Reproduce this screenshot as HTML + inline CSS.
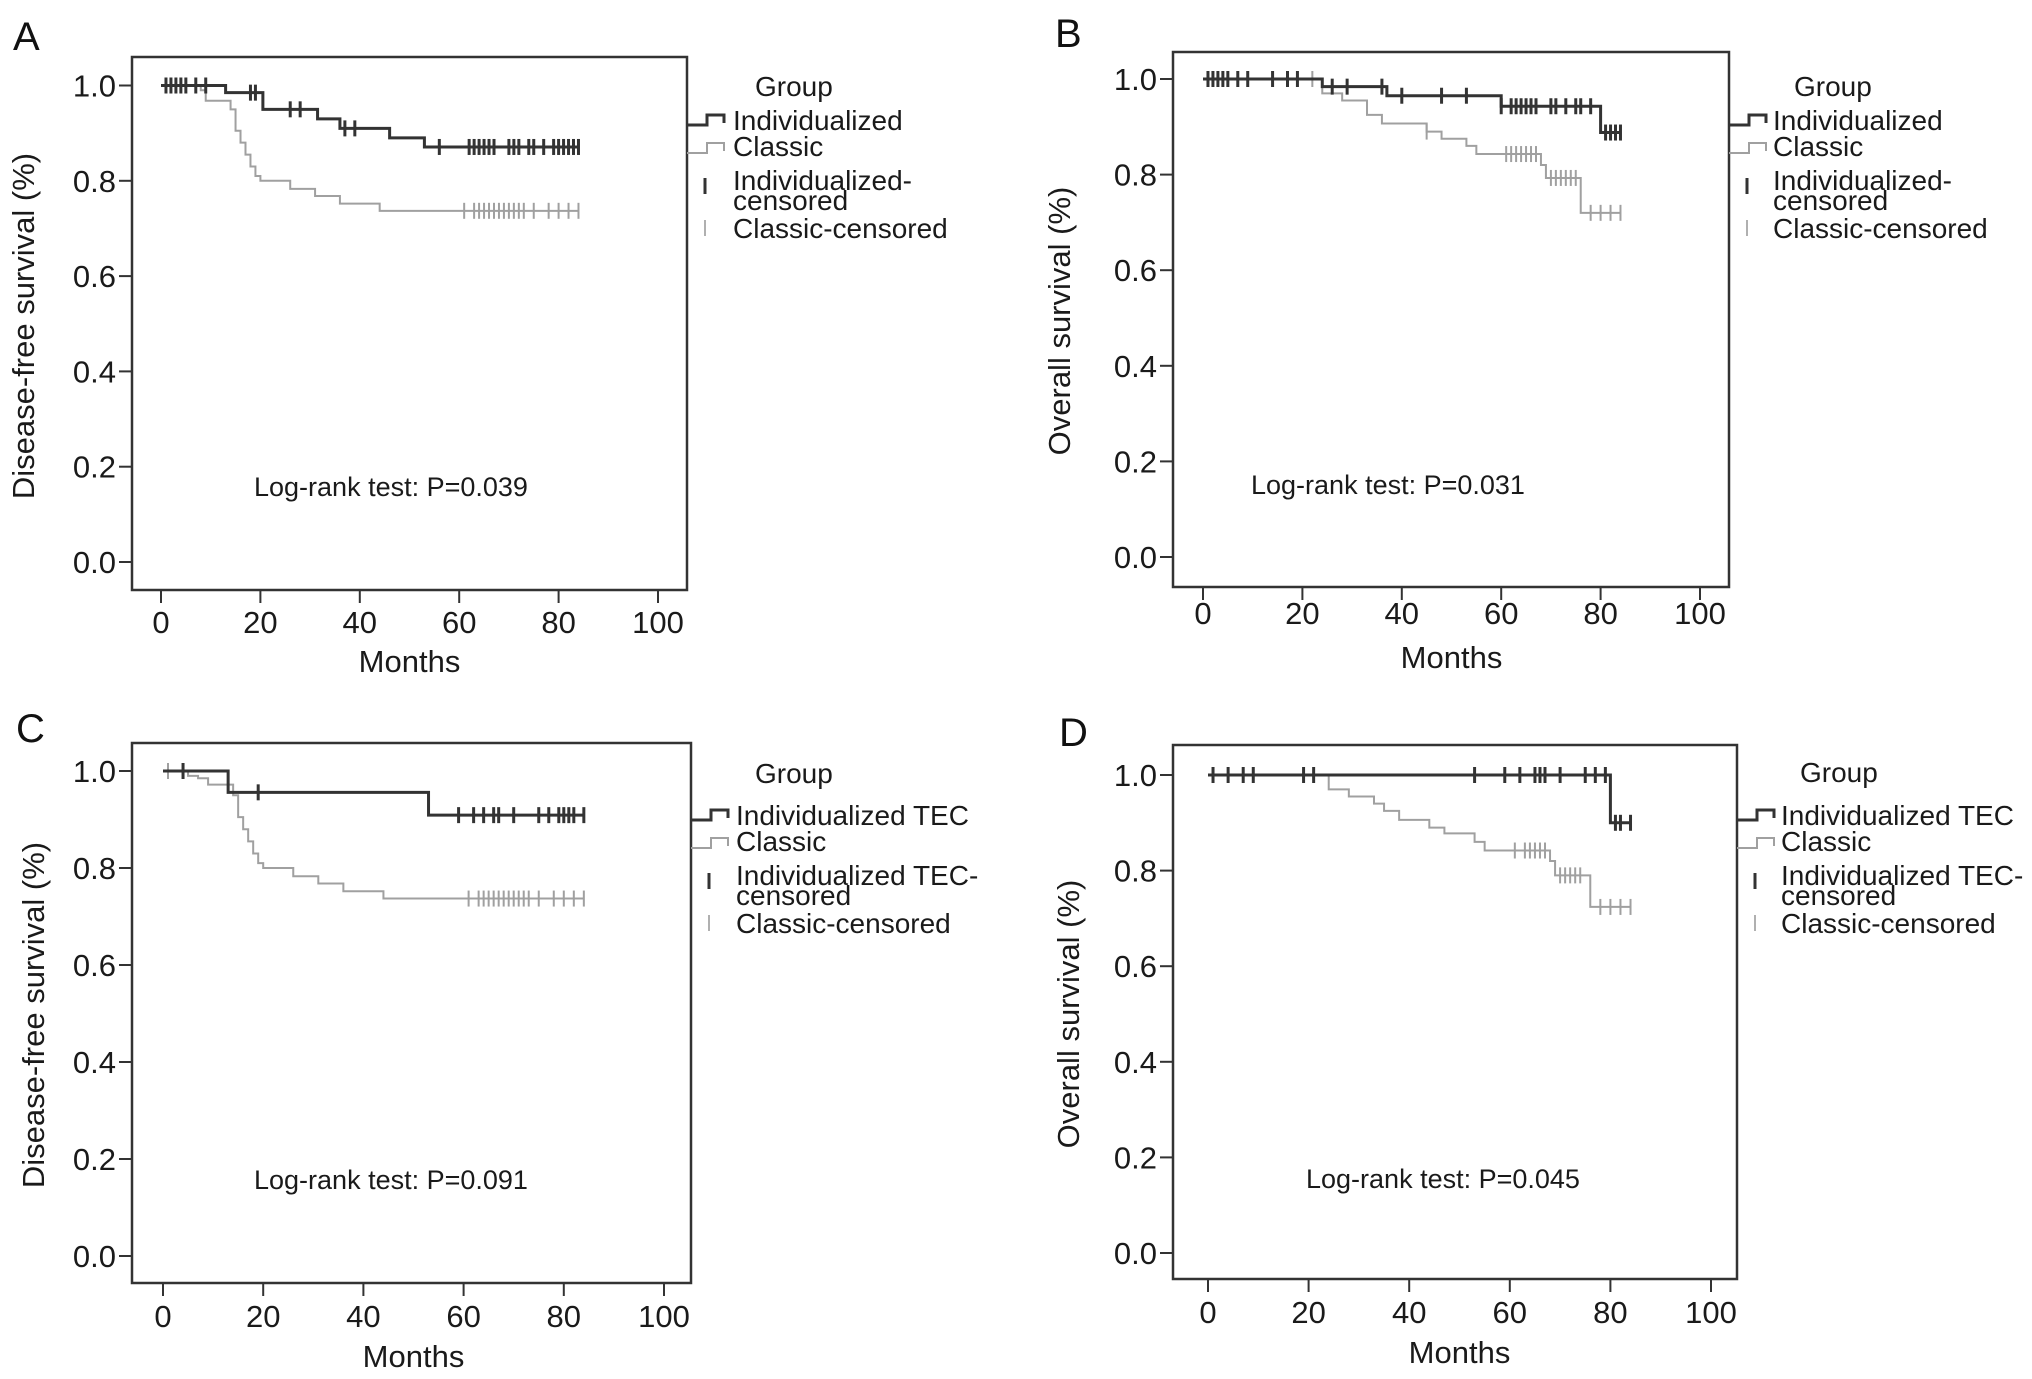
<!DOCTYPE html>
<html><head><meta charset="utf-8"><title>Survival curves</title>
<style>
html,body{margin:0;padding:0;background:#fff;}
svg{display:block;font-family:"Liberation Sans",Arial,sans-serif;}
</style></head>
<body>
<svg id="fig" width="2032" height="1379" viewBox="0 0 2032 1379" xmlns="http://www.w3.org/2000/svg"></svg>
<script>
// ---- Data (months, survival) ----
const xTicks = [0, 20, 40, 60, 80, 100];
const yTicks = [0.0, 0.2, 0.4, 0.6, 0.8, 1.0];
const yTickLabels = ["0.0", "0.2", "0.4", "0.6", "0.8", "1.0"];

const aIndTimes = [0, 13, 20.5, 31.5, 36, 46, 53, 84];
const aIndSurv  = [1.0, 0.985, 0.95, 0.93, 0.91, 0.89, 0.871, 0.871];
const aIndCens  = [1,2,3,4,5,7,9,18,19,26,28,37,39,56,62,63,64,65,66,67,70,71,72,74,75,77,79,80,81,82,83,84];
const aClaTimes = [0, 8, 9, 14, 15, 16, 17, 18, 19, 20, 26, 31, 36, 44, 84];
const aClaSurv  = [1.0, 0.99, 0.968, 0.95, 0.905, 0.88, 0.855, 0.83, 0.81, 0.80, 0.783, 0.768, 0.752, 0.737, 0.737];
const aClaCens  = [4,7,61,63,64,65,66,67,68,69,70,71,72,73,75,78,80,82,84];

const bIndTimes = [0, 24, 37, 60, 80, 84];
const bIndSurv  = [1.0, 0.984, 0.965, 0.943, 0.888, 0.888];
const bIndCens  = [1,2,3,4,5,7,9,14,17,19,26,29,36,40,48,53,60,62,63,64,65,66,67,70,71,73,75,76,78,81,82,83,84];
const bClaTimes = [0, 24, 28, 33, 36, 45, 48, 53, 55, 68, 69, 76, 84];
const bClaSurv  = [1.0, 0.97, 0.955, 0.925, 0.907, 0.89, 0.875, 0.86, 0.843, 0.82, 0.793, 0.72, 0.72];
const bClaCens  = [14,22,45,61,62,63,64,65,66,67,70,71,72,73,74,75,78,80,82,84];

const cIndTimes = [0, 13, 53, 84];
const cIndSurv  = [1.0, 0.956, 0.909, 0.909];
const cIndCens  = [4,19,59,62,64,66,67,70,75,77,79,80,81,82,84];
const cClaTimes = [0, 5, 7, 9, 14, 15, 16, 17, 18, 19, 20, 26, 31, 36, 44, 84];
const cClaSurv  = [1.0, 0.99, 0.985, 0.972, 0.95, 0.905, 0.88, 0.855, 0.83, 0.81, 0.80, 0.783, 0.768, 0.752, 0.737, 0.737];
const cClaCens  = [1,4,61,63,64,65,66,67,68,69,70,71,72,73,75,78,80,82,84];

const dIndTimes = [0, 80, 84];
const dIndSurv  = [1.0, 0.90, 0.90];
const dIndCens  = [1,4,7,9,19,21,53,59,62,65,66,67,70,75,77,79,81,82,84];
const dClaTimes = [0, 24, 28, 33, 35, 38, 44, 47, 53, 55, 68, 69, 76, 84];
const dClaSurv  = [1.0, 0.97, 0.955, 0.94, 0.925, 0.906, 0.89, 0.878, 0.86, 0.842, 0.82, 0.79, 0.724, 0.724];
const dClaCens  = [1,7,19,61,63,64,65,66,67,70,71,72,73,74,78,80,82,84];

// ---- Layout ----
const panels = [
 {id:"a", letter:"A", lx:13, ly:50, box:[132,57,687,590], x0:161, x100:658, y1:85.5, y0:562,
  tickY:633, monthsY:672, ylab:"Disease-free survival (%)", ylx:24, yly:326,
  legX:733, groupX:755, groupY:86, legY:120, p:"Log-rank test: P=0.039", px:254, py:496,
  ind:"Individualized", indC:["Individualized-","censored"],
  it:aIndTimes, is:aIndSurv, ic:aIndCens, ct:aClaTimes, cs:aClaSurv, cc:aClaCens},
 {id:"b", letter:"B", lx:1055, ly:47, box:[1173,52,1729,587], x0:1203, x100:1700, y1:79, y0:557,
  tickY:624, monthsY:668, ylab:"Overall survival (%)", ylx:1060, yly:321,
  legX:1773, groupX:1794, groupY:86, legY:120, p:"Log-rank test: P=0.031", px:1251, py:494,
  ind:"Individualized", indC:["Individualized-","censored"],
  it:bIndTimes, is:bIndSurv, ic:bIndCens, ct:bClaTimes, cs:bClaSurv, cc:bClaCens},
 {id:"c", letter:"C", lx:16, ly:742, box:[132,743,691,1283], x0:163, x100:664, y1:771, y0:1256,
  tickY:1327, monthsY:1367, ylab:"Disease-free survival (%)", ylx:34, yly:1015,
  legX:736, groupX:755, groupY:773, legY:815, p:"Log-rank test: P=0.091", px:254, py:1189,
  ind:"Individualized TEC", indC:["Individualized TEC-","censored"],
  it:cIndTimes, is:cIndSurv, ic:cIndCens, ct:cClaTimes, cs:cClaSurv, cc:cClaCens},
 {id:"d", letter:"D", lx:1059, ly:746, box:[1173,745,1737,1279], x0:1208, x100:1711, y1:775, y0:1253,
  tickY:1323, monthsY:1363, ylab:"Overall survival (%)", ylx:1069, yly:1014,
  legX:1781, groupX:1800, groupY:772, legY:815, p:"Log-rank test: P=0.045", px:1306, py:1188,
  ind:"Individualized TEC", indC:["Individualized TEC-","censored"],
  it:dIndTimes, is:dIndSurv, ic:dIndCens, ct:dClaTimes, cs:dClaSurv, cc:dClaCens}
];

const NS = "http://www.w3.org/2000/svg";
const svg = document.getElementById("fig");
function mk(tag, attrs, parent, text){
  const e = document.createElementNS(NS, tag);
  for (const k in attrs) e.setAttribute(k, attrs[k]);
  if (text !== undefined) e.textContent = text;
  parent.appendChild(e);
  return e;
}
function survAt(times, surv, t){
  let v = surv[0];
  for (let i=0;i<times.length;i++){ if (times[i] <= t) v = surv[i]; }
  return v;
}

panels.forEach(P => {
  const X = m => P.x0 + (P.x100 - P.x0) * m / 100;
  const Y = s => P.y0 - (P.y0 - P.y1) * s;
  const g = mk("g", {}, svg);
  
  

  const lt = mk("text", {x:P.lx, y:P.ly, "font-size":40, fill:"#111"}, g, P.letter);
  
  

  const [bx1, by1, bx2, by2] = P.box;
  const rect = mk("rect", {x:bx1, y:by1, width:bx2-bx1, height:by2-by1, fill:"none", stroke:"#333", "stroke-width":2.5}, g);
  
  

  yTicks.forEach((v,i) => {
    const t = mk("line", {x1:bx1-13, x2:bx1, y1:Y(v), y2:Y(v), stroke:"#333", "stroke-width":2}, g);
    
    
    const l = mk("text", {x:bx1-16, y:Y(v)+11, "font-size":31, "text-anchor":"end", fill:"#1a1a1a"}, g, yTickLabels[i]);
    
    
  });
  xTicks.forEach(v => {
    const t = mk("line", {x1:X(v), x2:X(v), y1:by2, y2:by2+13, stroke:"#333", "stroke-width":2}, g);
    
    
    const l = mk("text", {x:X(v), y:P.tickY, "font-size":31, "text-anchor":"middle", fill:"#1a1a1a"}, g, String(v));
    
    
  });
  const xt = mk("text", {x:(X(0)+X(100))/2, y:P.monthsY, "font-size":31, "text-anchor":"middle", fill:"#1a1a1a"}, g, "Months");
  
  
  const yt = mk("text", {x:0, y:0, "font-size":31, "text-anchor":"middle", fill:"#1a1a1a",
    transform:"translate(" + (P.ylx+10) + "," + P.yly + ") rotate(-90)"}, g, P.ylab);
  
  

  const pt = mk("text", {x:P.px, y:P.py, "font-size":27, fill:"#1a1a1a"}, g, P.p);
  
  

  function drawCurve(times, surv, cens, color, width, name){
    let d = "M" + X(times[0]) + "," + Y(surv[0]);
    for (let i=1;i<times.length;i++){
      d += " H" + X(times[i]) + " V" + Y(surv[i]);
    }
    const p = mk("path", {d:d, fill:"none", stroke:color, "stroke-width":width}, g);
    
    
    cens.forEach(c => {
      const yy = Y(survAt(times, surv, c));
      const m = mk("line", {x1:X(c), x2:X(c), y1:yy-8, y2:yy+8, stroke:color, "stroke-width":width}, g);
      
      
    });
  }
  drawCurve(P.ct, P.cs, P.cc, "#a0a0a0", 2, "classic");
  drawCurve(P.it, P.is, P.ic, "#333", 3, "individualized");

  const lg = mk("g", {}, g);
  
  
  const gt = mk("text", {x:P.groupX, y:P.groupY+10, "font-size":28, fill:"#1a1a1a"}, lg, "Group");
  
  
  const ly = P.legY, lx0 = bx2;
  const li1 = mk("path", {d:"M"+lx0+","+(ly+5)+" H"+(lx0+20)+" V"+(ly-5)+" H"+(lx0+37)+" V"+(ly+3), fill:"none", stroke:"#333", "stroke-width":3}, lg);
  
  
  const e1 = mk("text", {x:P.legX, y:ly+10, "font-size":28, fill:"#1a1a1a"}, lg, P.ind);
  
  
  const ly2 = ly + 28;
  const li2 = mk("path", {d:"M"+lx0+","+(ly2+5)+" H"+(lx0+20)+" V"+(ly2-5)+" H"+(lx0+37)+" V"+(ly2+3), fill:"none", stroke:"#a0a0a0", "stroke-width":2}, lg);
  
  
  const e2 = mk("text", {x:P.legX, y:ly2+8, "font-size":28, fill:"#1a1a1a"}, lg, "Classic");
  
  
  const ly3 = ly + 62;
  const li3 = mk("line", {x1:lx0+18, x2:lx0+18, y1:ly3-4, y2:ly3+12, stroke:"#333", "stroke-width":3}, lg);
  
  
  const e3 = mk("text", {x:P.legX, y:ly3+8, "font-size":28, fill:"#1a1a1a"}, lg, P.indC[0]);
  
  
  const e3b = mk("text", {x:P.legX, y:ly3+28, "font-size":28, fill:"#1a1a1a"}, lg, P.indC[1]);
  
  
  const ly4 = ly + 108;
  const li4 = mk("line", {x1:lx0+18, x2:lx0+18, y1:ly4-8, y2:ly4+8, stroke:"#b0b0b0", "stroke-width":2}, lg);
  
  
  const e4 = mk("text", {x:P.legX, y:ly4+10, "font-size":28, fill:"#1a1a1a"}, lg, "Classic-censored");
  
  
});
</script>
</body></html>
